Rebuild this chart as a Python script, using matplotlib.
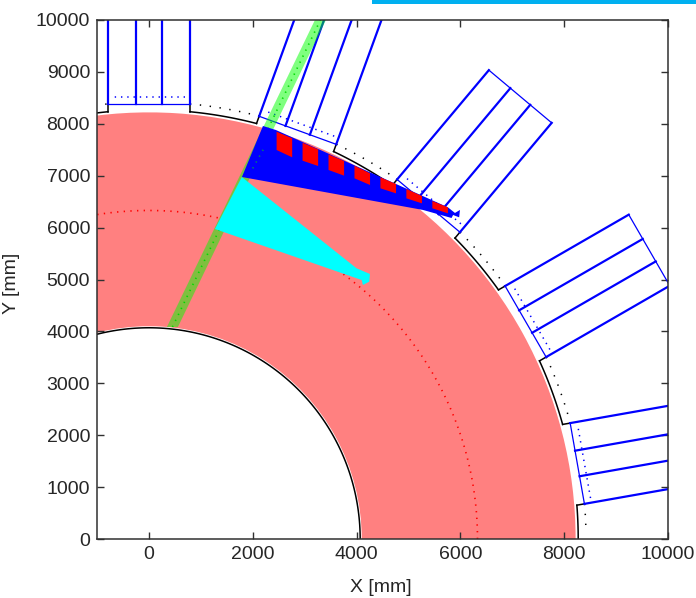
import numpy as np
import matplotlib
matplotlib.use('Agg')
import matplotlib.pyplot as plt
from matplotlib.patches import Wedge, Polygon, Rectangle

plt.rcParams['font.family'] = ['Liberation Sans', 'DejaVu Sans']

# geometry, all in mm
x_ticks = [0, 2000, 4000, 6000, 8000, 10000]
y_ticks = [0, 1000, 2000, 3000, 4000, 5000, 6000, 7000, 8000, 9000, 10000]
ring_inner = 4100
ring_outer = 8220
wall_inner = 4070
wall_outer = 8270
dotted_outer = 8420
dotted_red = 6330

slot_angles = [90, 70, 50, 30, 10]
slot_offsets = [-790, -250, 250, 790]
slot_base = 8380
slot_dots = 8515
slot_end = 11130

green_x = [347, 559, 3410, 3198]
green_y = [4085, 4085, 10000, 10000]
green_mid_x = [453, 3304]
green_mid_y = [4085, 10000]
inner_dots_x = [2200, 1950]
inner_dots_y = [7500, 7050]

blue_x = [2197, 2447, 5760, 5896, 5992, 5977, 5860, 5830, 5280, 1792]
blue_y = [7958, 7880, 6391, 6282, 6340, 6198, 6243, 6185, 6340, 6975]
cyan_x = [1790, 1272, 4098, 4123, 4245, 4258, 4000]
cyan_y = [6975, 5973, 4990, 4894, 4958, 5106, 5216]

red_left = [2460, 2960, 3460, 3960, 4460, 4960, 5460]
red_width = 300
red_top_l = [7848, 7636, 7412, 7194, 6969, 6744, 6513]
red_top_r = [7720, 7508, 7283, 7046, 6840, 6609, 6391]
red_bot_l = [7495, 7289, 7110, 6950, 6757, 6564, 6372]
red_bot_r = [7354, 7187, 7001, 6821, 6660, 6467, 6275]


def slot_pt(angle, offset, radial):
    a = np.deg2rad(angle)
    return (radial*np.cos(a) - offset*np.sin(a), radial*np.sin(a) + offset*np.cos(a))


def arc(r, a0, a1):
    t = np.deg2rad(np.linspace(a0, a1, 120))
    return r*np.cos(t), r*np.sin(t)


def gap_angle(angle, offset, r):
    # polar angle where the slot side at this offset meets radius r
    return angle + np.rad2deg(np.arcsin(offset/r))


fig = plt.figure(figsize=(6.96, 5.98), dpi=100)
ax = fig.add_axes([97/696, 59/598, 571/696, 519/598])
ax.set_xlim(-1000, 10000)
ax.set_ylim(0, 10000)

ax.add_patch(Wedge((0, 0), ring_outer, 0, 115, width=ring_outer-ring_inner, fc='#ff8080', ec='none', zorder=1))

xs, ys = arc(dotted_red, 0, 115)
ax.plot(xs, ys, color='red', lw=1.2, ls=(0, (0.8, 3.2)), zorder=2)

# inner wall
xs, ys = arc(wall_inner, 0, 115)
ax.plot(xs, ys, color='black', lw=1.1, zorder=3)

# outer wall with the steps up to each slot, and dotted line behind it
hw = slot_offsets[-1]
starts = [115] + [gap_angle(a, -hw, wall_outer) for a in slot_angles]
stops = [gap_angle(a, hw, wall_outer) for a in slot_angles] + [0]
for a0, a1 in zip(starts, stops):
    xs, ys = arc(wall_outer, a0, a1)
    ax.plot(xs, ys, color='black', lw=1.1, zorder=3)
starts = [115] + [gap_angle(a, -hw, dotted_outer) for a in slot_angles]
stops = [gap_angle(a, hw, dotted_outer) for a in slot_angles] + [0.8]
for a0, a1 in zip(starts, stops):
    xs, ys = arc(dotted_outer, a0, a1)
    ax.plot(xs, ys, color='black', lw=1.1, ls=(0, (0.9, 5.6)), zorder=3)

for ang in slot_angles:
    for off in [-hw, hw]:
        p0 = slot_pt(ang, off, slot_base)
        p1 = slot_pt(ang, off, np.sqrt(wall_outer**2 - hw**2))
        ax.plot([p0[0], p1[0]], [p0[1], p1[1]], color='black', lw=1.1, zorder=3)
    # slot lines
    for off in slot_offsets:
        p0 = slot_pt(ang, off, slot_base)
        p1 = slot_pt(ang, off, slot_end)
        ax.plot([p0[0], p1[0]], [p0[1], p1[1]], color='#0000ff', lw=1.6, zorder=4)
    for rad in [slot_base, slot_end]:
        p0 = slot_pt(ang, -hw, rad)
        p1 = slot_pt(ang, hw, rad)
        ax.plot([p0[0], p1[0]], [p0[1], p1[1]], color='#0000ff', lw=0.9, zorder=4)
    p0 = slot_pt(ang, -hw + 90, slot_dots)
    p1 = slot_pt(ang, hw - 90, slot_dots)
    ax.plot([p0[0], p1[0]], [p0[1], p1[1]], color='#0000ff', lw=1.1, ls=(0, (0.9, 3.2)), zorder=4)

# green band
ax.add_patch(Polygon(np.column_stack([green_x, green_y]), fc=(0, 1, 0, 0.5), ec='none', zorder=5))
ax.plot(green_mid_x, green_mid_y, color='#00d800', lw=1.2, ls=(0, (0.8, 3.2)), zorder=5)

ax.add_patch(Polygon(np.column_stack([cyan_x, cyan_y]), fc='#00ffff', ec='none', zorder=6))
ax.add_patch(Polygon(np.column_stack([blue_x, blue_y]), fc='#0000ff', ec='none', zorder=7))
for i in range(len(red_left)):
    rx = [red_left[i], red_left[i]+red_width, red_left[i]+red_width, red_left[i]]
    ry = [red_top_l[i], red_top_r[i], red_bot_r[i], red_bot_l[i]]
    ax.add_patch(Polygon(np.column_stack([rx, ry]), fc='#ff0000', ec='none', zorder=8))
ax.plot(inner_dots_x, inner_dots_y, color='#00806a', lw=1.2, ls=(0, (0.8, 3.2)), zorder=9)

ax.set_xticks(x_ticks)
ax.set_yticks(y_ticks)
ax.tick_params(direction='in', top=True, right=True, length=5, width=1.0, labelsize=14,
               labelcolor='#262626', color='#303030', pad=5)
for s in ax.spines.values():
    s.set_linewidth(1.1)
    s.set_color('#303030')
    s.set_zorder(10)
fig.text(381/696, 1-587/598, 'X [mm]', ha='center', va='center', fontsize=14, color='#262626')
fig.text(12/696, 1-283/598, 'Y [mm]', ha='center', va='center', rotation=90, fontsize=14, color='#262626')

# bar at the top edge of the page
fig.add_artist(Rectangle((372/696, 1-4/598), 324/696, 4/598, transform=fig.transFigure, fc='#00b0f0', ec='none'))

fig.savefig('out.png', dpi=100)
